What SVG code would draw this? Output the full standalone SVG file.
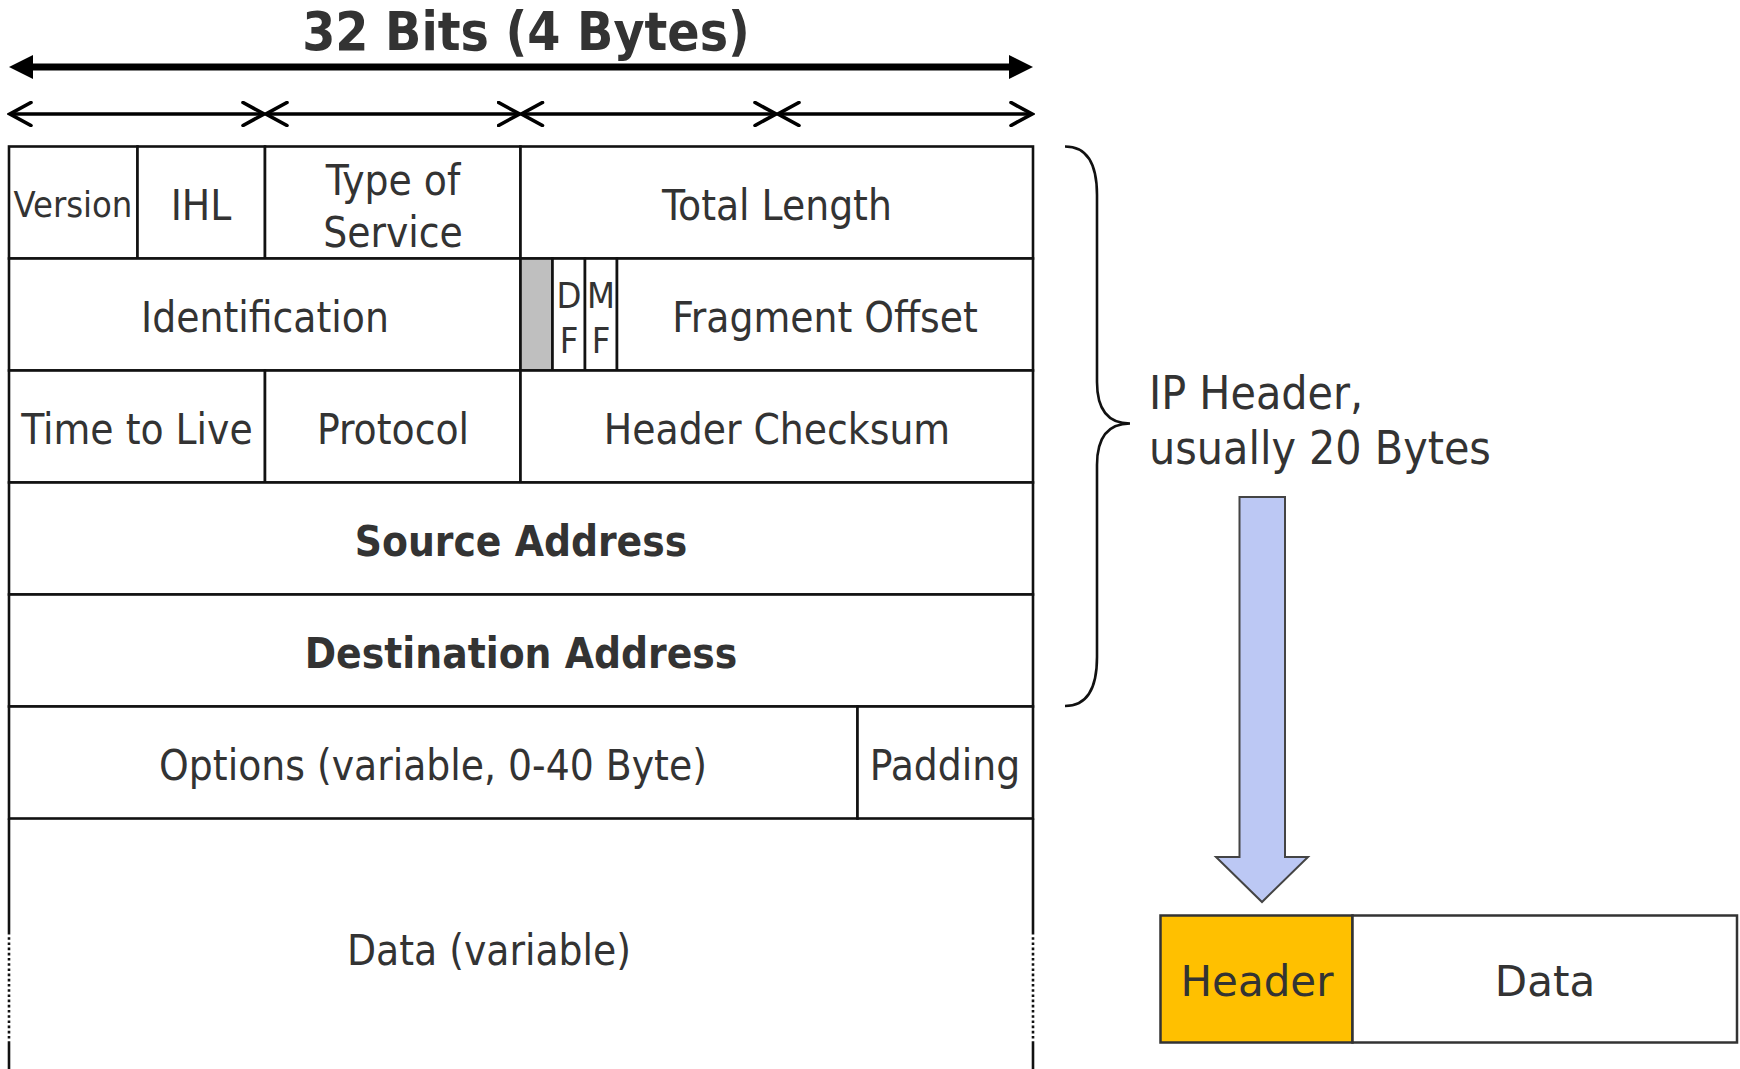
<svg xmlns="http://www.w3.org/2000/svg" width="1740" height="1069" viewBox="0 0 1740 1069">
<style>
  .cell { fill: #ffffff; stroke: #111111; stroke-width: 2.6; }
  .t { font-family: "DejaVu Sans Condensed", "DejaVu Sans", sans-serif; font-stretch: condensed; font-size: 42px; fill: #333333; text-anchor: middle; }
  .b { font-weight: bold; font-size: 42px; }
  .w { font-family: "DejaVu Sans", sans-serif; font-stretch: normal; font-size: 42px; fill: #333333; text-anchor: middle; }
  .edge { stroke: #111111; stroke-width: 2.6; fill: none; }
</style>
<defs>
  <marker id="tri" viewBox="0 0 24 24" refX="0" refY="12" markerWidth="24" markerHeight="24" markerUnits="userSpaceOnUse" orient="auto-start-reverse">
    <path d="M0,0 L24,12 L0,24 Z" fill="#000000"/>
  </marker>
  <marker id="chev" viewBox="0 0 26 26" refX="23" refY="13" markerWidth="26" markerHeight="26" markerUnits="userSpaceOnUse" orient="auto-start-reverse">
    <path d="M2,1.5 L23,13 L2,24.5" fill="none" stroke="#000000" stroke-width="3.6" stroke-linecap="round" stroke-linejoin="miter"/>
  </marker>
</defs>
<rect x="0" y="0" width="1740" height="1069" fill="#ffffff"/>

<g id="title">
  <text class="t b" x="526" y="50" style="font-size:53px">32 Bits (4 Bytes)</text>
</g>

<g id="connectors">
  <line x1="33" y1="67" x2="1009" y2="67" stroke="#000000" stroke-width="7" marker-start="url(#tri)" marker-end="url(#tri)"/>
  <line x1="10" y1="114" x2="264" y2="114" stroke="#000000" stroke-width="3.5" marker-start="url(#chev)" marker-end="url(#chev)"/>
  <line x1="266" y1="114" x2="519.5" y2="114" stroke="#000000" stroke-width="3.5" marker-start="url(#chev)" marker-end="url(#chev)"/>
  <line x1="521.5" y1="114" x2="776" y2="114" stroke="#000000" stroke-width="3.5" marker-start="url(#chev)" marker-end="url(#chev)"/>
  <line x1="778" y1="114" x2="1032" y2="114" stroke="#000000" stroke-width="3.5" marker-start="url(#chev)" marker-end="url(#chev)"/>
  <path id="brace" class="edge" d="M1065,146.5 C1088,146.5 1097,165 1097,195 L1097,382 C1097,410 1108,423.5 1130,423.5 C1108,423.5 1097,437 1097,465 L1097,657 C1097,688 1088,706 1065,706"/>
  <polygon id="down-arrow" points="1239.5,497 1285,497 1285,857 1308,857 1262,902 1216,857 1239.5,857" fill="#bcc8f4" stroke="#444444" stroke-width="2"/>
</g>

<g id="version"><rect class="cell" x="9" y="146.5" width="128.5" height="112"/><text class="t" x="73" y="217" style="font-size:36px">Version</text></g>
<g id="ihl"><rect class="cell" x="137.5" y="146.5" width="127.5" height="112"/><text class="t" x="201" y="220">IHL</text></g>
<g id="tos"><rect class="cell" x="265" y="146.5" width="255.5" height="112"/><text class="t" x="393" y="195">Type of</text><text class="t" x="393" y="247">Service</text></g>
<g id="total-length"><rect class="cell" x="520.5" y="146.5" width="512.5" height="112"/><text class="t" x="777" y="220">Total Length</text></g>

<g id="identification"><rect class="cell" x="9" y="258.5" width="511.5" height="112"/><text class="t" x="265" y="332">Identification</text></g>
<g id="reserved"><rect x="520.5" y="258.5" width="32" height="112" fill="#bfbfbf" stroke="#111111" stroke-width="2.6"/></g>
<g id="df"><rect class="cell" x="552.5" y="258.5" width="32.5" height="112"/><text class="t" x="569" y="308" style="font-size:36px">D</text><text class="t" x="569" y="353" style="font-size:36px">F</text></g>
<g id="mf"><rect class="cell" x="585" y="258.5" width="32" height="112"/><text class="t" x="601" y="308" style="font-size:36px">M</text><text class="t" x="601" y="353" style="font-size:36px">F</text></g>
<g id="fragment-offset"><rect class="cell" x="617" y="258.5" width="416" height="112"/><text class="t" x="825" y="332">Fragment Offset</text></g>

<g id="ttl"><rect class="cell" x="9" y="370.5" width="256" height="112"/><text class="t" x="137" y="444">Time to Live</text></g>
<g id="protocol"><rect class="cell" x="265" y="370.5" width="255.5" height="112"/><text class="t" x="393" y="444">Protocol</text></g>
<g id="checksum"><rect class="cell" x="520.5" y="370.5" width="512.5" height="112"/><text class="t" x="777" y="444">Header Checksum</text></g>

<g id="source"><rect class="cell" x="9" y="482.5" width="1024" height="112"/><text class="t b" x="521" y="556">Source Address</text></g>
<g id="destination"><rect class="cell" x="9" y="594.5" width="1024" height="112"/><text class="t b" x="521" y="668">Destination Address</text></g>

<g id="options"><rect class="cell" x="9" y="706.5" width="848.5" height="112"/><text class="t" x="433" y="780">Options (variable, 0-40 Byte)</text></g>
<g id="padding"><rect class="cell" x="857.5" y="706.5" width="175.5" height="112"/><text class="t" x="945" y="780">Padding</text></g>

<g id="data-variable">
  <path class="edge" d="M9,818.5 V932 M1033,818.5 V932 M9,1042 V1069 M1033,1042 V1069"/>
  <path class="edge" d="M9,932 V1042 M1033,932 V1042" stroke-dasharray="2.6 2.6"/>
  <text class="t" x="489" y="965">Data (variable)</text>
</g>

<g id="ip-header-label">
  <text class="t" x="1149" y="409" style="font-size:46px;text-anchor:start">IP Header,</text>
  <text class="t" x="1149" y="464" style="font-size:46px;text-anchor:start">usually 20 Bytes</text>
</g>

<g id="packet-header"><rect x="1160.5" y="915.5" width="192" height="127" fill="#ffc000" stroke="#333333" stroke-width="2.5"/><text class="w" x="1257" y="996">Header</text></g>
<g id="packet-data"><rect x="1352.5" y="915.5" width="384.5" height="127" fill="#ffffff" stroke="#333333" stroke-width="2.5"/><text class="w" x="1545" y="996">Data</text></g>
</svg>
